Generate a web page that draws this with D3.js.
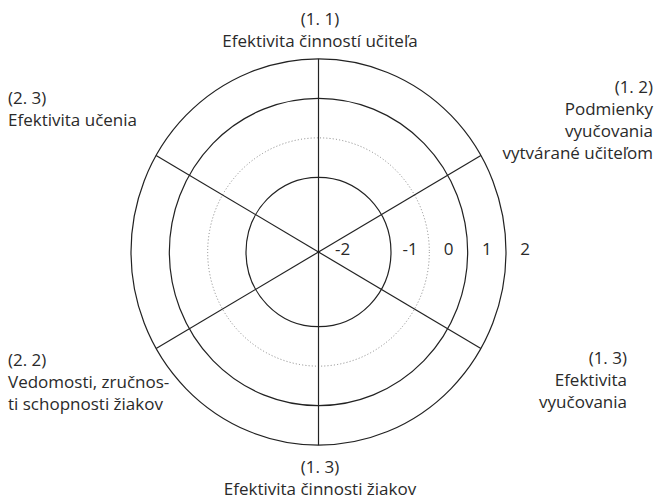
<!DOCTYPE html>
<html>
<head>
<meta charset="utf-8">
<script src="https://cdn.jsdelivr.net/npm/d3@7"></script>
<style>
  body { margin: 0; background: #fff; }
  svg text { font-family: "Open Sans", Lato, sans-serif; font-size: 17px; fill: #2a2a2a; }
</style>
</head>
<body>
<svg id="svg1" width="655" height="500"></svg>
<script>
// axis codes and names (clockwise from top)
var axisCodes = [ "(1. 1)", "(1. 2)", "(1. 3)", "(1. 3)", "(2. 2)", "(2. 3)" ];
var axisNames = [
  ["Efektivita činností učiteľa"],
  ["Podmienky", "vyučovania", "vytvárané učiteľom"],
  ["Efektivita", "vyučovania"],
  ["Efektivita činnosti žiakov"],
  ["Vedomosti, zručnos-", "ti schopnosti žiakov"],
  ["Efektivita učenia"]
];
var axisAngles = [ 90, 30, -30, -90, 210, 150 ];

// ring boundaries and scale labels
var ringValues = [ -1.5, -0.5, 0.5, 1.5 ];
var dottedRing = -0.5;
var tickLabels = [ -2, -1, 0, 1, 2 ];

var width = 655, height = 500;
var cx = 318.5, cy = 252;
var stretchY = 1.03;

var svg = d3.select("#svg1");

var r = d3.scaleLinear()
          .domain([-2.25, -1.5, 1.5])
          .range([0, 72.5, 187.5]);

var g = svg.append("g")
           .attr("transform", "translate(" + cx + "," + cy + ")");

// rings
g.selectAll(".ring")
  .data(ringValues)
  .enter()
  .append("ellipse")
    .attr("class", "ring")
    .attr("rx", function(d) { return r(d); })
    .attr("ry", function(d) { return r(d) * stretchY; })
    .attr("fill", "none")
    .attr("stroke", function(d) { return d == dottedRing ? "#777" : "#222"; })
    .attr("stroke-width", function(d) { return d == dottedRing ? 0.9 : 1.2; })
    .attr("stroke-dasharray", function(d) { return d == dottedRing ? "1,2.2" : null; });

// spokes
var outer = d3.max(ringValues);
g.selectAll(".spoke")
  .data(axisAngles)
  .enter()
  .append("line")
    .attr("class", "spoke")
    .attr("x1", 0)
    .attr("y1", 0)
    .attr("x2", function(d) { return r(outer) * Math.cos(d * Math.PI / 180); })
    .attr("y2", function(d) { return -r(outer) * stretchY * Math.sin(d * Math.PI / 180); })
    .attr("stroke", "#222")
    .attr("stroke-width", 1.2);

// scale labels along the right horizontal
g.selectAll(".tick-label")
  .data(tickLabels)
  .enter()
  .append("text")
    .attr("class", "tick-label")
    .attr("x", function(d) { return r(d); })
    .attr("y", -3)
    .attr("dy", "0.35em")
    .attr("text-anchor", "middle")
    .text(function(d) { return d; });

// axis labels: [x, y of first line, anchor]
var labelPlace = [
  [320, 19, "middle"],
  [653, 87, "end"],
  [627, 358, "end"],
  [320, 467, "middle"],
  [8, 360, "start"],
  [8, 98, "start"]
];
var lineStep = 22;

axisCodes.forEach(function(code, i) {
  var p = labelPlace[i];
  var lines = [code].concat(axisNames[i]);
  var t = svg.append("text")
             .attr("class", "axis-label")
             .attr("text-anchor", p[2]);
  lines.forEach(function(s, j) {
    t.append("tspan")
     .attr("x", p[0])
     .attr("y", p[1] + j * lineStep)
     .attr("dy", "0.35em")
     .text(s);
  });
});
</script>
</body>
</html>
